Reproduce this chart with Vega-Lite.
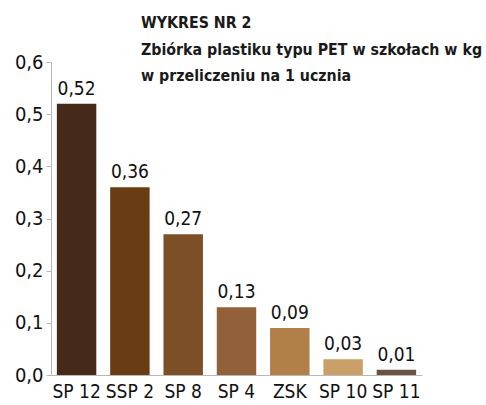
{
  "$schema": "https://vega.github.io/schema/vega-lite/v6.json",
  "width": 371,
  "height": 313,
  "autosize": "none",
  "padding": {"left": 51, "top": 62, "right": 64, "bottom": 30},
  "background": "white",
  "title": {
    "text": ["WYKRES NR 2", "Zbiórka plastiku typu PET w szkołach w kg", "w przeliczeniu na 1 ucznia"],
    "anchor": "start",
    "frame": "group",
    "align": "left",
    "dx": 90,
    "offset": -33,
    "font": "DejaVu Sans Condensed, sans-serif",
    "fontSize": 15.8,
    "fontWeight": "bold",
    "lineHeight": 26.5,
    "color": "#1a1a1a"
  },
  "config": {
    "locale": {"number": {"decimal": ",", "thousands": " ", "grouping": [3], "currency": ["", " zł"]}},
    "view": {"stroke": null},
    "font": "DejaVu Sans Condensed, sans-serif"
  },
  "data": {
    "values": [
      {"szkola": "SP 12", "wartosc": 0.52, "kolor": "#452a1a"},
      {"szkola": "SSP 2", "wartosc": 0.36, "kolor": "#6a3c14"},
      {"szkola": "SP 8", "wartosc": 0.27, "kolor": "#7d4f26"},
      {"szkola": "SP 4", "wartosc": 0.13, "kolor": "#92613a"},
      {"szkola": "ZSK", "wartosc": 0.09, "kolor": "#b17f48"},
      {"szkola": "SP 10", "wartosc": 0.03, "kolor": "#c9a068"},
      {"szkola": "SP 11", "wartosc": 0.01, "kolor": "#6b5242"}
    ]
  },
  "encoding": {
    "x": {
      "field": "szkola",
      "type": "nominal",
      "sort": null,
      "scale": {"paddingInner": 0.26, "paddingOuter": 0.11},
      "axis": {
        "title": null,
        "labelAngle": 0,
        "ticks": false,
        "domainColor": "#b8b8b8",
        "labelFontSize": 19,
        "labelColor": "#111",
        "labelPadding": 7
      }
    },
    "y": {
      "field": "wartosc",
      "type": "quantitative",
      "scale": {"domain": [0, 0.6], "nice": false},
      "axis": {
        "title": null,
        "grid": false,
        "values": [0, 0.1, 0.2, 0.3, 0.4, 0.5, 0.6],
        "format": ".1f",
        "domainColor": "#b8b8b8",
        "tickColor": "#b8b8b8",
        "tickSize": 5,
        "labelFontSize": 20,
        "labelColor": "#111",
        "labelPadding": 3
      }
    }
  },
  "layer": [
    {
      "mark": {"type": "bar"},
      "encoding": {"color": {"field": "kolor", "type": "nominal", "scale": null}}
    },
    {
      "mark": {"type": "text", "baseline": "alphabetic", "dy": -9, "fontSize": 19, "color": "#111"},
      "encoding": {"text": {"field": "wartosc", "type": "quantitative", "format": ".2f"}}
    }
  ]
}
